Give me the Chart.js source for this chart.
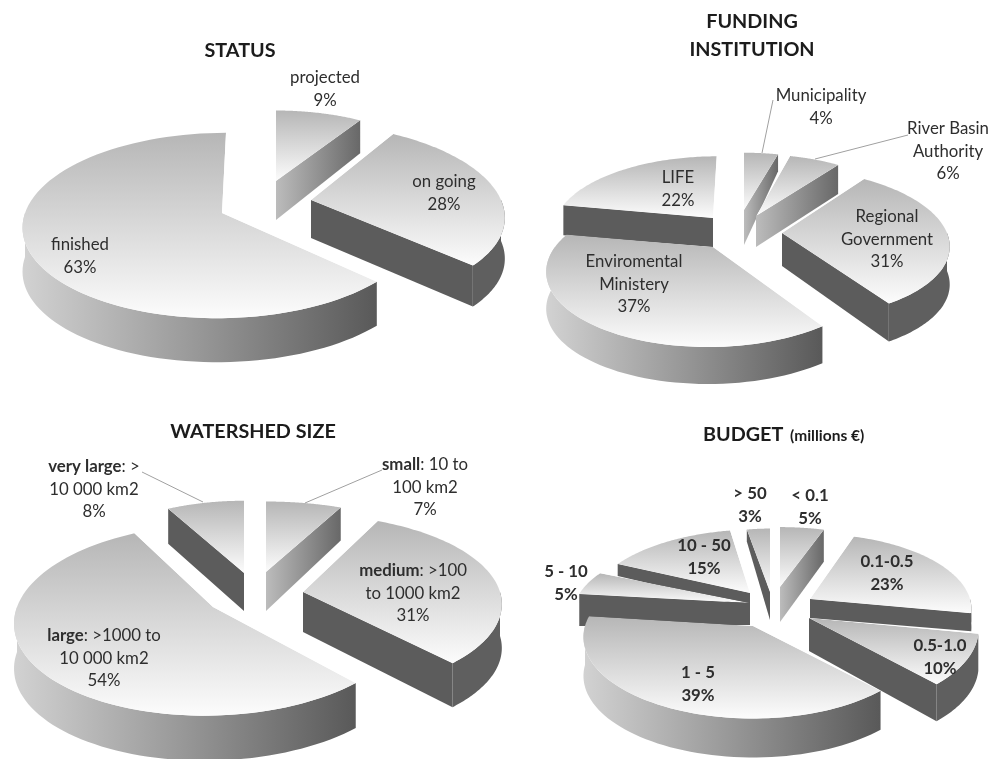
<!DOCTYPE html>
<html><head><meta charset="utf-8">
<style>html,body{margin:0;padding:0;background:#fff;width:1000px;height:759px;overflow:hidden}
canvas{position:absolute;left:0;top:0}</style>
<script src="https://cdn.jsdelivr.net/npm/chart.js@4"></script>
</head><body>
<canvas id="c1" width="1000" height="759"></canvas>
<canvas id="c2" width="1000" height="759"></canvas>
<canvas id="c3" width="1000" height="759"></canvas>
<canvas id="c4" width="1000" height="759"></canvas>
<script>
// ---- data ----
const statusCategories = ['projected','on going','finished'];
const statusValues = [9,28,63];
const fundingCategories = ['Municipality','River Basin Authority','Regional Government','Enviromental Ministery','LIFE'];
const fundingValues = [4,6,31,37,22];
const watershedCategories = ['small: 10 to 100 km2','medium: >100 to 1000 km2','large: >1000 to 10 000 km2','very large: > 10 000 km2'];
const watershedValues = [7,31,54,8];
const budgetCategories = ['< 0.1','0.1-0.5','0.5-1.0','1 - 5','5 - 10','10 - 50','> 50'];
const budgetValues = [5,23,10,39,5,15,3];

// ---- per-slice drawing style (apex, ellipse radii, perspective, depth at apex/rim, shear) ----
const P0 = 0.135;
const statusStyle = [
 {ax:276,ay:181,rx:175,ry:80,d0:39,d1:33,sh:0},
 {ax:311,ay:200,rx:190,ry:87,d0:38,d1:41,sh:0.14},
 {ax:222,ay:213,rx:197,ry:91,d0:44,d1:44,sh:-0.05}];
const fundingStyle = [
 {ax:744,ay:210,rx:155,ry:65,d0:35,d1:17,sh:0},
 {ax:756,ay:216,rx:155,ry:70,d0:31,d1:29,sh:0},
 {ax:782,ay:233,rx:165,ry:74,d0:33,d1:38,sh:0.1},
 {ax:713,ay:247,rx:158,ry:70,d0:37,d1:37,sh:-0.05,p:0.3},
 {ax:713,ay:218,rx:157,ry:70,d0:29,d1:30,sh:-0.06}];
const watershedStyle = [
 {ax:266,ay:572,rx:197,ry:80,d0:39,d1:33,sh:0},
 {ax:303,ay:592,rx:197,ry:88,d0:40,d1:44,sh:0},
 {ax:213,ay:607,rx:196,ry:94,d0:45,d1:45,sh:-0.08},
 {ax:244,ay:573,rx:176,ry:82,d0:38,d1:35,sh:0}];
const budgetStyle = [
 {ax:780,ay:587,rx:160,ry:68,d0:35,d1:32,sh:0},
 {ax:810,ay:599,rx:160,ry:74,d0:19,d1:18,sh:0},
 {ax:809,ay:618,rx:168,ry:82,d0:33,d1:37,sh:0},
 {ax:753,ay:626,rx:168,ry:80,d0:39,d1:39,sh:0},
 {ax:750,ay:603,rx:175,ry:74,d0:22,d1:32,sh:0},
 {ax:750,ay:593,rx:158,ry:72,d0:14,d1:12,sh:-0.1},
 {ax:770,ay:592,rx:140,ry:72,d0:28,d1:12,sh:0}];

// ---- text ----
const statusText = [
 {x:325,y:78,lines:['projected','9%']},{x:444,y:182,lines:['on going','28%']},{x:80,y:245,lines:['finished','63%']}];
const fundingText = [
 {x:821,y:96,lines:['Municipality','4%']},
 {x:948,y:129,lines:['River Basin','Authority','6%'],clip:988},
 {x:887,y:217,lines:['Regional','Government','31%']},
 {x:634,y:262,lines:['Enviromental','Ministery','37%']},
 {x:678,y:178,lines:['LIFE','22%']}];
const watershedText = [
 {x:425,y:465,lines:['*small*: 10 to','100 km2','7%']},
 {x:413,y:571,lines:['*medium*: >100','to 1000 km2','31%']},
 {x:104,y:636,lines:['*large*: >1000 to','10 000 km2','54%']},
 {x:94,y:467,lines:['*very large*: >','10 000 km2','8%']}];
const budgetText = [
 {x:810,y:496,lines:['*< 0.1*','*5%*']},{x:887,y:562,lines:['*0.1-0.5*','*23%*']},
 {x:940,y:646,lines:['*0.5-1.0*','*10%*']},{x:698,y:673,lines:['*1 - 5*','*39%*']},
 {x:566,y:572,lines:['*5 - 10*','*5%*']},{x:704,y:546,lines:['*10 - 50*','*15%*']},
 {x:750,y:494,lines:['*> 50*','*3%*']}];
const titles = [
 {chart:0,items:[{x:240,y:51,t:'STATUS'}]},
 {chart:1,items:[{x:752,y:22,t:'FUNDING'},{x:752,y:50,t:'INSTITUTION'}]},
 {chart:2,items:[{x:253,y:432,t:'WATERSHED SIZE'}]}];
const leaders = [[],
 [[[762,153],[773,100]],[[815,159],[908,135]]],
 [[[203,502],[142,472]],[[305,503],[382,470]]],[]];

const FONT='Lato, Carlito, sans-serif';
function drawRich(ctx,line,cx,cy,size){
  const parts=line.split('*').map((t,i)=>({t,b:i%2===1})).filter(p=>p.t);
  let w=0;
  parts.forEach(p=>{ctx.font=(p.b?'bold ':'')+size+'px '+FONT;p.w=ctx.measureText(p.t).width;w+=p.w;});
  let x=cx-w/2;
  parts.forEach(p=>{ctx.font=(p.b?'bold ':'')+size+'px '+FONT;ctx.fillText(p.t,x,cy);x+=p.w;});
}

function pt(s,th){
  const d=1-(s.p===undefined?P0:s.p)*Math.sin(th);
  return [s.ax+(s.rx*Math.cos(th)+s.sh*s.ry*Math.sin(th))/d, s.ay+s.ry*Math.sin(th)/d];
}
function arcPts(s,a,b,n){const out=[];for(let i=0;i<=n;i++){out.push(pt(s,a+(b-a)*i/n));}return out;}
function poly(ctx,pts){ctx.beginPath();pts.forEach((p,i)=>i?ctx.lineTo(p[0],p[1]):ctx.moveTo(p[0],p[1]));ctx.closePath();}

function wall(ctx,s,th,normalX){
  const e=pt(s,th);
  poly(ctx,[[s.ax,s.ay],e,[e[0],e[1]+s.d1],[s.ax,s.ay+s.d0]]);
  if(normalX<0){ctx.fillStyle='#5c5c5c';}
  else{
    const g=ctx.createLinearGradient(s.ax,0,e[0],0);
    g.addColorStop(0,'#bcbcbc');g.addColorStop(1,'#686868');ctx.fillStyle=g;
  }
  ctx.fill();
}
function rim(ctx,s,a,b){
  const lo=Math.max(a,0),hi=Math.min(b,Math.PI);
  if(hi<=lo)return;
  const top=arcPts(s,lo,hi,60);
  const low=top.map(p=>[p[0],p[1]+s.d1]).reverse();
  poly(ctx,top.concat(low));
  if(Math.cos(hi)<-0.3){
    const xs=top.map(p=>p[0]);
    const g=ctx.createLinearGradient(Math.min(...xs),0,Math.max(...xs),0);
    g.addColorStop(0,'#d2d2d2');g.addColorStop(0.5,'#979797');g.addColorStop(1,'#595959');ctx.fillStyle=g;
  } else ctx.fillStyle='#5f5f5f';
  ctx.fill();
}

function make(id,categories,values,style,order,text,idx){
  const pie3d={
    id:'pie3d',
    beforeDatasetsDraw(chart){
      const ctx=chart.ctx,meta=chart.getDatasetMeta(0);
      order.forEach(i=>{
        const arc=meta.data[i],s=style[i],a=arc.startAngle,b=arc.endAngle;
        ctx.save();
        if(Math.cos(a)<-1e-6)wall(ctx,s,a,Math.sin(a));
        if(Math.cos(b)>1e-6)wall(ctx,s,b,-Math.sin(b));
        rim(ctx,s,a,b);
        // top face: the library's arc, mapped on the slanted ellipse
        const outline=arcPts(s,a,b,80);outline.unshift([s.ax,s.ay]);
        const ys=outline.map(p=>p[1]);
        poly(ctx,outline);ctx.clip();
        const R=arc.outerRadius,k=1.7,sx=k*s.rx/R,sy=k*s.ry/R,c=k*s.sh*s.ry/R;
        ctx.transform(sx,0,c,sy,s.ax-sx*arc.x-c*arc.y,s.ay-sy*arc.y);
        const y0=arc.y+(Math.min(...ys)-s.ay)/sy,y1=arc.y+(Math.max(...ys)-s.ay)/sy;
        const g=ctx.createLinearGradient(0,y0,0,y1);
        g.addColorStop(0,'#b6b6b6');g.addColorStop(1,'#fcfcfc');
        arc.options=Object.assign({},arc.options,{backgroundColor:g,borderWidth:0});
        arc.draw(ctx);
        ctx.restore();
      });
      return false;
    },
    afterDraw(chart){
      const ctx=chart.ctx;
      ctx.save();
      ctx.strokeStyle='#a0a0a0';ctx.lineWidth=1;
      leaders[idx].forEach(l=>{ctx.beginPath();ctx.moveTo(l[0][0],l[0][1]);ctx.lineTo(l[1][0],l[1][1]);ctx.stroke();});
      ctx.fillStyle='#2e2e2e';ctx.textBaseline='middle';ctx.textAlign='left';
      text.forEach(t=>{
        ctx.save();
        if(t.clip){ctx.beginPath();ctx.rect(0,0,t.clip,759);ctx.clip();}
        t.lines.forEach((ln,i)=>drawRich(ctx,ln,t.x,t.y+i*22.3,16.8));
        ctx.restore();
      });
      ctx.fillStyle='#1c1c1c';
      titles.filter(o=>o.chart===idx).forEach(o=>o.items.forEach(it=>drawRich(ctx,'*'+it.t+'*',it.x,it.y,19.8)));
      if(idx===3){
        ctx.font='bold 19.8px '+FONT;ctx.fillText('BUDGET',703,435);
        ctx.font='bold 15.5px '+FONT;ctx.fillText('(millions €)',790,436);
      }
      ctx.restore();
    }
  };
  return new Chart(document.getElementById(id),{
    type:'pie',
    data:{labels:categories,datasets:[{data:values,borderWidth:0,backgroundColor:'#cccccc'}]},
    options:{responsive:false,animation:false,radius:100,rotation:0,
      plugins:{legend:{display:false},title:{display:false},tooltip:{enabled:false}},events:[]},
    plugins:[pie3d]
  });
}
make('c1',statusCategories,statusValues,statusStyle,[0,1,2],statusText,0);
make('c2',fundingCategories,fundingValues,fundingStyle,[0,1,4,2,3],fundingText,1);
make('c3',watershedCategories,watershedValues,watershedStyle,[3,0,1,2],watershedText,2);
make('c4',budgetCategories,budgetValues,budgetStyle,[0,6,5,1,4,2,3],budgetText,3);
</script>
</body></html>
